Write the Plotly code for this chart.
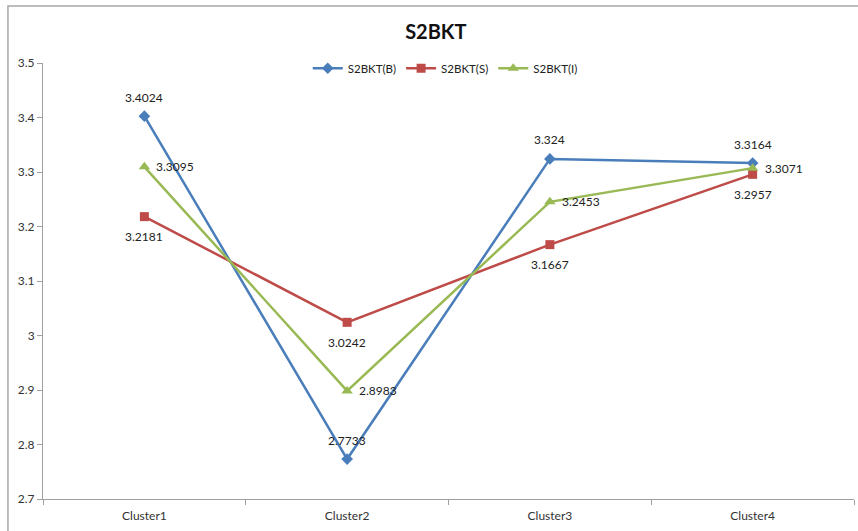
import plotly.graph_objects as go

categories = ["Cluster1", "Cluster2", "Cluster3", "Cluster4"]
s2bkt_b = [3.4024, 2.7733, 3.324, 3.3164]
s2bkt_s = [3.2181, 3.0242, 3.1667, 3.2957]
s2bkt_i = [3.3095, 2.8983, 3.2453, 3.3071]

FONT = "Lato, 'Open Sans', sans-serif"

# name, values, colour, marker symbol, marker size, label placement (anchor, xshift, yshift)
series = [
    ("S2BKT(B)", s2bkt_b, "#4A7EBB", "diamond", 9, ("center", 0, 19)),
    ("S2BKT(S)", s2bkt_s, "#BE4B48", "square", 9, ("center", 0, -20)),
    ("S2BKT(I)", s2bkt_i, "#98B954", "triangle-up", 10, ("left", 10, 0)),
]

fig = go.Figure()
annotations = []
for name, vals, color, symbol, msize, (anchor, dx, dy) in series:
    fig.add_trace(go.Scatter(
        x=categories, y=vals, name=name, mode="lines+markers",
        line=dict(color=color, width=2.5),
        marker=dict(symbol=symbol, size=msize, color=color),
    ))
    for c, v in zip(categories, vals):
        annotations.append(dict(
            x=c, y=v, xref="x", yref="y", text=str(v), showarrow=False,
            xanchor=anchor, yanchor="middle", xshift=dx, yshift=dy,
            font=dict(family=FONT, size=12, color="#222222"),
        ))

fig.update_layout(
    width=858, height=531,
    margin=dict(l=43, r=4, t=63, b=32),
    paper_bgcolor="white", plot_bgcolor="white",
    title=dict(text="<b>S2BKT</b>", x=0.508, xanchor="center", y=0.94, yanchor="middle",
               font=dict(family=FONT, size=20, color="#111111")),
    legend=dict(orientation="h", x=0.496, xanchor="center", y=0.988, yanchor="middle",
                font=dict(family=FONT, size=11.5, color="#222222"),
                bgcolor="rgba(0,0,0,0)", itemwidth=30, tracegroupgap=0),
    showlegend=True,
    annotations=annotations,
    xaxis=dict(type="category", range=[-0.5, 3.5], tickson="boundaries",
               showline=True, linecolor="#A0A0A0", linewidth=1,
               ticks="outside", ticklen=5, tickcolor="#A0A0A0",
               ticklabelstandoff=6,
               showgrid=False, zeroline=False,
               tickfont=dict(family=FONT, size=12, color="#333333")),
    yaxis=dict(range=[2.7, 3.5], dtick=0.1, tickformat="~g",
               showline=True, linecolor="#A0A0A0", linewidth=1,
               ticks="outside", ticklen=5, tickcolor="#A0A0A0",
               showgrid=False, zeroline=False,
               tickfont=dict(family=FONT, size=12, color="#333333")),
    shapes=[dict(type="rect", xref="paper", yref="paper",
                 x0=-0.0432, x1=1.2, y0=-0.3, y1=1.1307,
                 line=dict(color="#A8A8A8", width=1.5), layer="below")],
)

fig.write_html("out.html")
